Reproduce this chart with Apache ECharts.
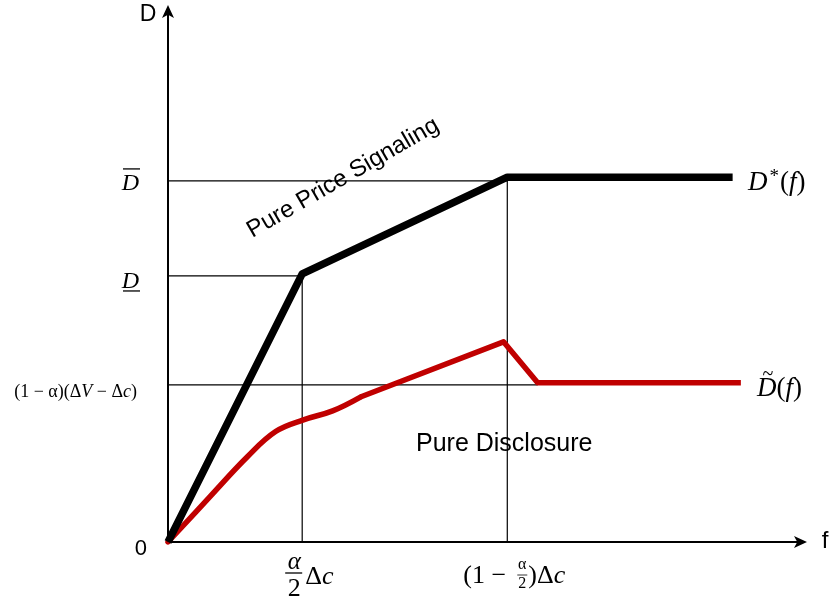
<!DOCTYPE html>
<html>
<head>
<meta charset="utf-8">
<script src="https://cdn.jsdelivr.net/npm/echarts@6/dist/echarts.min.js"></script>
<style>
html, body { margin: 0; padding: 0; background: #fff; }
#chart { width: 833px; height: 612px; }
</style>
</head>
<body>
<div id="chart"></div>
<script>
// axis ranges (arbitrary units)
const xMax = 10;
const yMax = 10;

// marked positions on the f axis: α/2·Δc , (1-α/2)·Δc
const fTicks = [2.12, 5.36];
// marked positions on the D axis: 0, (1-α)(ΔV-Δc), D_, D‾
const dTicks = [0, 2.96, 5.01, 6.80];
// where the (1-α)(ΔV-Δc) guide stops
const midGuideEnd = 5.84;

// D*(f)
const dStarF = [0, 2.12, 5.36, 8.92];
const dStarD = [0, 5.05, 6.87, 6.87];

// D~(f): curved part up to index 6, straight after
const dTildeF = [0, 0.66, 1.25, 1.70, 2.14, 2.60, 3.04, 5.30, 5.84, 9.05];
const dTildeD = [0, 0.85, 1.60, 2.08, 2.30, 2.47, 2.73, 3.77, 3.00, 3.00];
const curveEnd = 6;

const SANS = '"Liberation Sans", Arial, sans-serif';
const SERIF = '"Liberation Serif", "Times New Roman", serif';

const zip = (a, b) => a.map((v, i) => [v, b[i]]);

const guide = (data) => ({
  type: 'line',
  data: data,
  symbol: 'none',
  silent: true,
  lineStyle: { color: '#000', width: 1.2 },
  z: 1
});

const chart = echarts.init(document.getElementById('chart'));

const axisBase = {
  type: 'value',
  min: 0,
  axisLine: {
    show: true,
    symbol: ['none', 'arrow'],
    symbolSize: [9, 13],
    symbolOffset: [0, 6],
    lineStyle: { color: '#000', width: 2 }
  },
  axisTick: { show: false },
  axisLabel: { show: false },
  splitLine: { show: false }
};

const redPts = zip(dTildeF, dTildeD);

chart.setOption({
  animation: false,
  backgroundColor: '#fff',
  grid: { left: 168, right: 32, top: 11, bottom: 70 },
  xAxis: Object.assign({}, axisBase, { max: xMax }),
  yAxis: Object.assign({}, axisBase, { max: yMax }),
  series: [
    guide([[0, dTicks[3]], [fTicks[1], dTicks[3]]]),
    guide([[0, dTicks[2]], [fTicks[0], dTicks[2]]]),
    guide([[0, dTicks[1]], [midGuideEnd, dTicks[1]]]),
    guide([[fTicks[0], 0], [fTicks[0], dTicks[2]]]),
    guide([[fTicks[1], 0], [fTicks[1], dStarD[2]]]),
    {
      name: 'D*(f)',
      type: 'line',
      data: zip(dStarF, dStarD),
      symbol: 'none',
      lineStyle: { color: '#000', width: 7.5, cap: 'butt', join: 'round' },
      z: 3
    },
    {
      name: 'D~(f)',
      type: 'line',
      data: redPts.slice(0, curveEnd + 1),
      symbol: 'none',
      smooth: 0.4,
      lineStyle: { color: '#c00000', width: 5.5, cap: 'round' },
      z: 2
    },
    {
      name: 'D~(f)',
      type: 'line',
      data: redPts.slice(curveEnd),
      symbol: 'none',
      lineStyle: { color: '#c00000', width: 5.5, join: 'round' },
      z: 2
    }
  ]
});

// labels placed from the axis scale
const px = (x, y) => chart.convertToPixel({ gridIndex: 0 }, [x, y]);
const [ox, oy] = px(0, 0);
const yBar = px(0, dTicks[3])[1];
const yUnder = px(0, dTicks[2])[1];
const yMid = px(0, dTicks[1])[1];
const x1 = px(fTicks[0], 0)[0];
const x2 = px(fTicks[1], 0)[0];
const yStar = px(0, dStarD[3])[1];
const yTil = px(0, dTildeD[dTildeD.length - 1])[1];

const txt = (x, y, text, font, extra) => ({
  type: 'text',
  x: x,
  y: y,
  silent: true,
  style: Object.assign({ text: text, font: font, fill: '#000', verticalAlign: 'middle' }, extra || {})
});
const rule = (x1_, y1_, x2_, y2_, w) => ({
  type: 'line',
  silent: true,
  shape: { x1: x1_, y1: y1_, x2: x2_, y2: y2_ },
  style: { stroke: '#000', lineWidth: w || 1.3 }
});

const mathRich = (size) => ({
  u: { fontFamily: SERIF, fontSize: size, fill: '#000' },
  i: { fontFamily: SERIF, fontSize: size, fontStyle: 'italic', fill: '#000' },
  s: { fontFamily: SERIF, fontSize: Math.round(size * 0.7), fill: '#000', padding: [0, 1, 12, 2] }
});

const signaling = txt(343, 178, 'Pure Price Signaling', '24px ' + SANS, { align: 'center' });
signaling.rotation = Math.PI / 6;

chart.setOption({
  graphic: [
    // axis names
    txt(ox - 20, 15, 'D', '23px ' + SANS, { align: 'center' }),
    txt(825, oy - 1, 'f', '24px ' + SANS, { align: 'center' }),
    // D axis marks
    txt(ox - 21, oy + 7, '0', '22px ' + SANS, { align: 'right' }),
    txt(ox - 29, yBar + 3, 'D', 'italic 24px ' + SERIF, { align: 'right' }),
    rule(ox - 45, yBar - 12, ox - 28, yBar - 12),
    txt(ox - 29, yUnder + 6, 'D', 'italic 24px ' + SERIF, { align: 'right' }),
    rule(ox - 45, yUnder + 15, ox - 28, yUnder + 15),
    txt(ox - 31, yMid + 7, '{u|(1 − α)(Δ}{i|V}{u| − Δ}{i|c}{u|)}', '18px ' + SERIF,
      { align: 'right', rich: mathRich(18) }),
    // f axis marks
    txt(x1 - 8, oy + 20, 'α', 'italic 25px ' + SERIF, { align: 'center' }),
    rule(x1 - 17, oy + 31, x1, oy + 31),
    txt(x1 - 8, oy + 47, '2', '26px ' + SERIF, { align: 'center' }),
    txt(x1 + 3, oy + 35, '{u|Δ}{i|c}', '26px ' + SERIF, { align: 'left', rich: mathRich(26) }),
    txt(x2 - 44, oy + 34, '(1 −', '26px ' + SERIF, { align: 'left' }),
    txt(x2 + 15, oy + 23, 'α', '16px ' + SERIF, { align: 'center' }),
    rule(x2 + 10, oy + 33, x2 + 20, oy + 33, 0.8),
    txt(x2 + 15, oy + 42, '2', '16px ' + SERIF, { align: 'center' }),
    txt(x2 + 21, oy + 34, '{u|)Δ}{i|c}', '26px ' + SERIF, { align: 'left', rich: mathRich(26) }),
    // curve names
    txt(748, yStar + 6, '{i|D}{s|*}{u|(}{i|f}{u|)}', '27px ' + SERIF, { align: 'left', rich: mathRich(27) }),
    txt(757, yTil + 6, '{i|D}{u|(}{i|f}{u|)}', '27px ' + SERIF, { align: 'left', rich: mathRich(27) }),
    txt(768, yTil - 8, '~', '20px ' + SERIF, { align: 'center' }),
    // regions
    signaling,
    txt(416, 444, 'Pure Disclosure', '25px ' + SANS, { align: 'left' })
  ]
});
</script>
</body>
</html>
